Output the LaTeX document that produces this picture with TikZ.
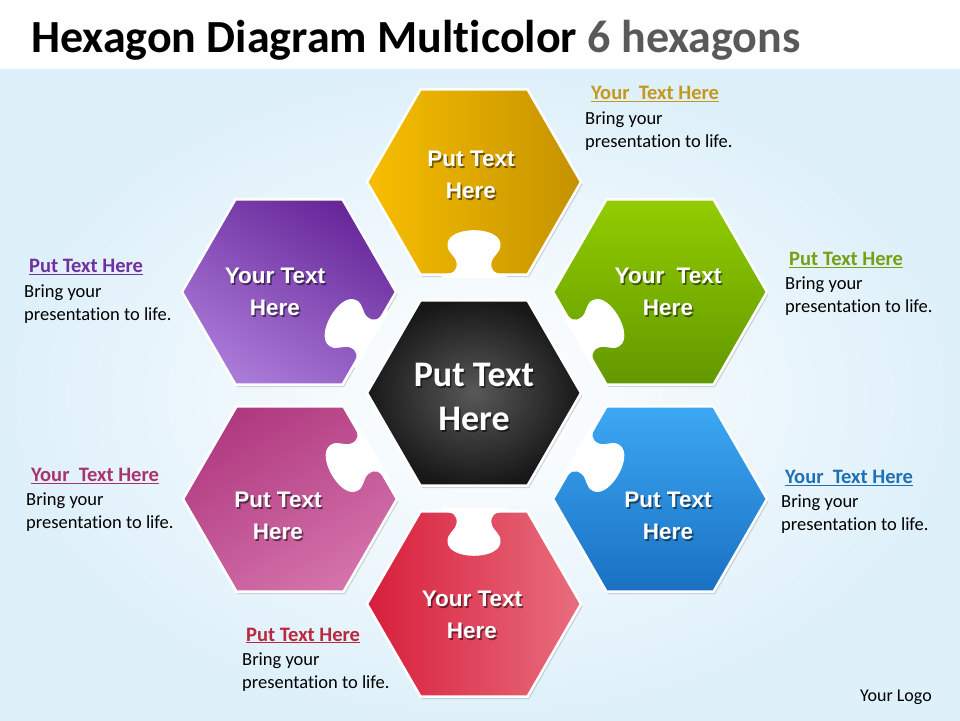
\documentclass[tikz,border=0pt]{standalone}
\usepackage{fontspec}
\setmainfont{Carlito}[Ligatures=NoCommon]
\newfontfamily\arialfont{Liberation Sans}
\usetikzlibrary{shadows}

\definecolor{goldA}{RGB}{247,190,0}
\definecolor{goldB}{RGB}{196,146,0}
\definecolor{purpA}{RGB}{104,40,154}
\definecolor{purpB}{RGB}{170,122,216}
\definecolor{grnA}{RGB}{146,204,0}
\definecolor{grnB}{RGB}{98,152,0}
\definecolor{magA}{RGB}{176,58,128}
\definecolor{magB}{RGB}{212,114,170}
\definecolor{bluA}{RGB}{60,168,244}
\definecolor{bluB}{RGB}{26,112,194}
\definecolor{redA}{RGB}{216,30,60}
\definecolor{redB}{RGB}{232,110,126}
\definecolor{goldH}{RGB}{196,152,28}
\definecolor{purpH}{RGB}{112,48,160}
\definecolor{grnH}{RGB}{118,160,20}
\definecolor{bluH}{RGB}{30,112,180}
\definecolor{magH}{RGB}{168,52,110}
\definecolor{redH}{RGB}{185,40,62}
\definecolor{titlegray}{RGB}{89,89,89}
\definecolor{bgblue}{RGB}{222,240,250}

\begin{document}
\begin{tikzpicture}[x=1pt, y=1pt,
    hexa/.style={draw=white, line width=2.5pt,
      drop shadow={shadow xshift=1.5pt, shadow yshift=-2.5pt, opacity=0.3}},
    notch/.style={fill=white, draw=white, line width=1pt},
    hexlbl/.style={text=white, align=center, font=\arialfont\bfseries\fontsize{22.5}{32}\selectfont},
    lblshade/.style={hexlbl, text=black, opacity=0.5},
    headtxt/.style={anchor=base west, inner sep=0pt, font=\bfseries\fontsize{20.5}{23}\selectfont},
    bodytxt/.style={anchor=base west, inner sep=0pt, align=left, font=\fontsize{18.5}{23}\selectfont}]
    \def\r{107};
    \useasboundingbox (0,0) rectangle (960,720);
    \fill[white] (0,0) rectangle (960,720);
    \shade[inner color=white, outer color=bgblue] (0,0) rectangle (960,650); %background%

    \node[anchor=base west, inner sep=0pt, font=\bfseries\fontsize{46}{46}\selectfont] (title) at (31,667)
      {Hexagon Diagram Multicolor \textcolor{titlegray}{6 hexagons}};

    % outer pieces, notch faces the middle
    \foreach \n/\cx/\cy/\ang/\ca/\cb/\sa in {
        top/474/538/90/goldA/goldB/90,
        ul/289/428/150/purpA/purpB/-30,
        ur/660/428/30/grnA/grnB/0,
        ll/290/221/210/magA/magB/30,
        lr/660/221/330/bluA/bluB/0,
        bot/474/116/270/redA/redB/90}
    {
      \coordinate (\n) at (\cx,\cy);
      \begin{scope}[shift={(\n)}]
        \path[hexa, top color=\ca, bottom color=\cb, shading angle=\sa]
          (0:\r) -- (60:\r) -- (120:\r) -- (180:\r) -- (240:\r) -- (300:\r) -- cycle;
        \begin{scope}[rotate=\ang-90, shift={(0,-92.7)}]
          \path[notch] (-32,-3) -- (-32,0) .. controls (-20,0) and (-16,4) .. (-17,12)
            .. controls (-18,20) and (-27,22) .. (-26,31) .. controls (-25,40) and (-12,44) .. (0,44)
            .. controls (12,44) and (25,40) .. (26,31) .. controls (27,22) and (18,20) .. (17,12)
            .. controls (16,4) and (20,0) .. (32,0) -- (32,-3) -- cycle;
        \end{scope}
      \end{scope}
    }

    % middle piece
    \coordinate (mid) at (474,327);
    \path[hexa, inner color={rgb,255:red,88;green,88;blue,88}, outer color={rgb,255:red,24;green,24;blue,24}, shift={(mid)}]
      (0:\r) -- (60:\r) -- (120:\r) -- (180:\r) -- (240:\r) -- (300:\r) -- cycle;

    \foreach \n/\lx/\ly/\txt in {
        top/471/545/{Put Text\\Here},
        ul/275/428/{Your Text\\Here},
        ur/668/428/{Your~~Text\\Here},
        ll/278/204/{Put Text\\Here},
        lr/668/204/{Put Text\\Here},
        bot/472/105/{Your Text\\Here}}
    {
      \node[lblshade] (sh-\n) at (\lx+1.5,\ly-1.5) {\txt};
      \node[hexlbl] (lbl-\n) at (\lx,\ly) {\txt};
    }
    \node[lblshade, font=\bfseries\fontsize{36}{44}\selectfont] (sh-mid) at (475.5,321.5) {Put Text\\Here};
    \node[hexlbl, font=\bfseries\fontsize{36}{44}\selectfont] (lbl-mid) at (474,323) {Put Text\\Here};

    % side texts
    \node[headtxt, text=goldH] (head-top) at (591,620) {\underline{Your~~Text Here}};
    \node[bodytxt] (body-top) at (585,572) {Bring your\\presentation to life.};
    \node[headtxt, text=purpH] (head-ul) at (29,447) {\underline{Put Text Here}};
    \node[bodytxt] (body-ul) at (24,399) {Bring your\\presentation to life.};
    \node[headtxt, text=grnH] (head-ur) at (789,454) {\underline{Put Text Here}};
    \node[bodytxt] (body-ur) at (785,407) {Bring your\\presentation to life.};
    \node[headtxt, text=magH] (head-ll) at (31,238) {\underline{Your~~Text Here}};
    \node[bodytxt] (body-ll) at (26,191) {Bring your\\presentation to life.};
    \node[headtxt, text=bluH] (head-lr) at (785,236) {\underline{Your~~Text Here}};
    \node[bodytxt] (body-lr) at (781,189) {Bring your\\presentation to life.};
    \node[headtxt, text=redH] (head-bot) at (246,79) {\underline{Put Text Here}};
    \node[bodytxt] (body-bot) at (242,32) {Bring your\\presentation to life.};
    \node[anchor=base west, inner sep=0pt, font=\fontsize{18}{20}\selectfont] (logo) at (860,19) {Your Logo};
\end{tikzpicture}
\end{document}
